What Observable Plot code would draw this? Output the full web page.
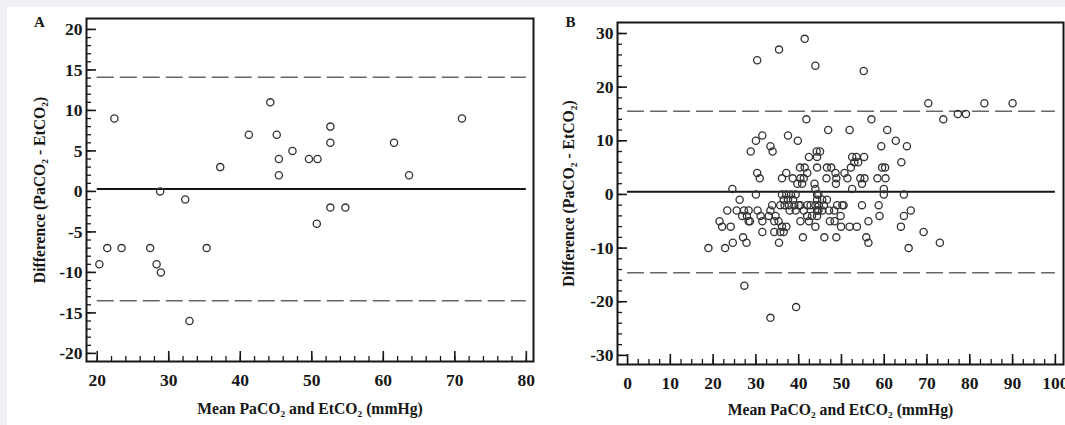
<!DOCTYPE html>
<html>
<head>
<meta charset="utf-8">
<script src="https://cdn.jsdelivr.net/npm/d3@7"></script>
<script src="https://cdn.jsdelivr.net/npm/@observablehq/plot@0.6"></script>
<style>
  html, body { margin: 0; padding: 0; background: #ffffff; }
  #page { position: relative; width: 1065px; height: 425px; overflow: hidden; background: #ffffff; }
  .strip { position: absolute; background: #eef0f5; z-index: 2; }
  .panel { position: absolute; top: 0; }
  .panel svg { background: transparent !important; }
</style>
</head>
<body>
<div id="page">
  <div class="strip" style="left:0;top:0;width:1065px;height:7px"></div>
  <div class="strip" style="left:0;top:0;width:7px;height:425px"></div>
  <div id="panelA" class="panel" style="left:0px"></div>
  <div id="panelB" class="panel" style="left:540px"></div>
</div>
<script>
// ---------- Titles ----------
const xTitle = "Mean PaCO₂ and EtCO₂ (mmHg)";
const yTitle = "Difference (PaCO₂ - EtCO₂)";

// ---------- Panel A data ----------
const meanA = [20.3, 21.4, 22.4, 23.4, 27.4, 28.3, 28.8, 28.9, 32.3, 32.9, 35.3, 37.2, 41.2, 44.2,
               45.1, 45.4, 45.4, 47.3, 49.6, 50.7, 50.8, 52.6, 52.6, 52.6, 54.7, 61.5, 63.6, 71.0];
const diffA = [-9, -7, 9, -7, -7, -9, 0, -10, -1, -16, -7, 3, 7, 11,
               7, 4, 2, 5, 4, -4, 4, 8, 6, -2, -2, 6, 2, 9];
const biasA = [0.3];
const limitsA = [14.1, -13.5];
const lineSpanA = [20, 80];
const xTicksA = [20, 30, 40, 50, 60, 70, 80];
const yTicksA = [-20, -15, -10, -5, 0, 5, 10, 15, 20];

// ---------- Panel B data ----------
const meanB = [
  41.4, 35.4, 30.3, 43.9, 55.2,
  70.3, 83.4, 90.0, 77.2, 79.1, 41.8, 57.0, 73.8,
  46.9, 51.9, 60.7, 31.5, 37.5, 30.0, 39.8, 62.7, 33.4, 59.3, 65.3,
  28.8, 33.9, 44.2, 45.0,
  42.4, 44.3, 52.5, 53.5, 55.3,
  53.0, 53.9, 64.0,
  40.3, 41.4, 44.3, 46.6, 47.6, 52.2, 59.5, 60.2,
  30.3, 37.1, 42.0, 48.6, 50.7,
  30.9, 36.1, 38.6, 40.4, 41.2, 46.5, 48.8, 51.4, 54.4, 55.4, 58.4, 60.3,
  39.7, 40.8, 43.7, 48.7, 54.8,
  24.5, 43.9, 52.5, 59.9,
  30.0, 36.1, 37.1, 38.2, 39.3, 44.3, 44.6, 59.9, 64.6,
  26.2, 36.5, 37.5, 38.7, 44.3, 45.5, 46.6,
  33.8, 35.7, 36.7, 37.7, 39.0, 40.0, 40.4, 42.0, 42.8, 43.9, 44.7, 45.9, 49.0, 50.2, 50.5, 54.8, 58.7,
  23.3, 25.5, 27.2, 28.3, 30.4, 33.4, 37.9, 39.3, 41.2, 44.3, 44.6, 45.5, 47.1, 48.3, 66.2,
  26.8, 27.9, 31.1, 33.0, 34.6, 42.0, 43.1, 44.3, 49.8, 58.9, 64.6,
  21.5, 28.3, 28.6, 31.5, 34.3, 35.3, 40.4, 42.4, 47.3, 48.4, 56.3,
  22.1, 24.1, 36.1, 37.1, 43.9, 49.9, 51.9, 53.6, 63.9,
  31.5, 34.3, 35.7, 36.5, 69.2,
  27.0, 41.0, 46.0, 48.8, 55.8,
  24.6, 27.8, 35.4, 56.3, 73.0,
  18.9, 22.8, 65.7,
  27.3, 39.4, 33.4
];
const diffB = [
  29, 27, 25, 24, 23,
  17, 17, 17, 15, 15, 14, 14, 14,
  12, 12, 12, 11, 11, 10, 10, 10, 9, 9, 9,
  8, 8, 8, 8,
  7, 7, 7, 7, 7,
  6, 6, 6,
  5, 5, 5, 5, 5, 5, 5, 5,
  4, 4, 4, 4, 4,
  3, 3, 3, 3, 3, 3, 3, 3, 3, 3, 3, 3,
  2, 2, 2, 2, 2,
  1, 1, 1, 1,
  0, 0, 0, 0, 0, 0, 0, 0, 0,
  -1, -1, -1, -1, -1, -1, -1,
  -2, -2, -2, -2, -2, -2, -2, -2, -2, -2, -2, -2, -2, -2, -2, -2, -2,
  -3, -3, -3, -3, -3, -3, -3, -3, -3, -3, -3, -3, -3, -3, -3,
  -4, -4, -4, -4, -4, -4, -4, -4, -4, -4, -4,
  -5, -5, -5, -5, -5, -5, -5, -5, -5, -5, -5,
  -6, -6, -6, -6, -6, -6, -6, -6, -6,
  -7, -7, -7, -7, -7,
  -8, -8, -8, -8, -8,
  -9, -9, -9, -9, -9,
  -10, -10, -10,
  -17, -21, -23
];
const biasB = [0.5];
const limitsB = [15.5, -14.6];
const lineSpanB = [0, 100];
const xTicksB = [0, 10, 20, 30, 40, 50, 60, 70, 80, 90, 100];
const yTicksB = [-30, -20, -10, 0, 10, 20, 30];

// ---------- Drawing ----------
const FONT = "'Liberation Serif', 'Times New Roman', serif";
const INK = "#161616";
const fmt = d => String(d); // plain hyphen-minus as in the reference

function panel(o) {
  const pts = o.xs.map((x, i) => ({x, y: o.ys[i]}));
  return Plot.plot({
    width: o.width, height: o.height,
    marginLeft: o.ml, marginRight: o.mr, marginTop: o.mt, marginBottom: o.mb,
    style: {fontFamily: FONT, background: "transparent", color: INK, overflow: "visible"},
    x: {domain: o.xDomain, label: null},
    y: {domain: o.yDomain, label: null},
    marks: [
      // minor & major inward ticks
      Plot.axisX(o.xMinor, {anchor: "bottom", tickSize: -5, fill: "none", stroke: INK, strokeWidth: 1.3, label: null}),
      Plot.axisX(o.xTicks, {anchor: "bottom", tickSize: -10, fill: "none", stroke: INK, strokeWidth: 1.6, label: null}),
      Plot.axisY(o.yMinor, {anchor: "left", tickSize: -5, fill: "none", stroke: INK, strokeWidth: 1.3, label: null}),
      Plot.axisY(o.yTicks, {anchor: "left", tickSize: -10, fill: "none", stroke: INK, strokeWidth: 1.6, label: null}),
      // tick labels
      Plot.axisX(o.xTicks, {anchor: "bottom", tickSize: 0, tickPadding: 12, tickFormat: fmt, fontSize: 17.5, fontWeight: "bold", fill: INK, label: null}),
      Plot.axisY(o.yTicks, {anchor: "left", tickSize: 0, tickPadding: 4, tickFormat: fmt, fontSize: 17.5, fontWeight: "bold", fill: INK, label: null}),
      Plot.frame({stroke: INK, strokeWidth: 2}),
      // limits of agreement and bias
      Plot.ruleY(o.limits, {x1: o.span[0], x2: o.span[1], stroke: "#666", strokeWidth: 1.6, strokeDasharray: "17,6"}),
      Plot.ruleY(o.bias, {x1: o.span[0], x2: o.span[1], stroke: INK, strokeWidth: 2}),
      // points
      Plot.dot(pts, {x: "x", y: "y", r: 3.6, stroke: "#333", strokeWidth: 1.3, fill: "none"}),
      // axis titles and panel letter
      Plot.text([xTitle], {frameAnchor: "bottom", dy: o.xTitleDy, text: d => d, fontSize: 15.7, fontWeight: "bold", fill: INK, textAnchor: "middle", lineAnchor: "middle"}),
      Plot.text([yTitle], {frameAnchor: "left", dx: o.yTitleDx, rotate: -90, text: d => d, fontSize: 15.7, fontWeight: "bold", fill: INK, textAnchor: "middle", lineAnchor: "middle"}),
      Plot.text([o.letter], {frameAnchor: "top-left", dx: o.letterDx, dy: o.letterDy, text: d => d, fontSize: 15, fontWeight: "bold", fill: INK, textAnchor: "middle", lineAnchor: "middle"})
    ]
  });
}

document.getElementById("panelA").append(panel({
  xs: meanA, ys: diffA, width: 540, height: 425, ml: 86, mr: 7, mt: 18, mb: 64,
  xDomain: [18.5, 81], yDomain: [-21, 21.35],
  xTicks: xTicksA, yTicks: yTicksA,
  xMinor: d3.range(20, 81, 2), yMinor: d3.range(-20, 21, 1),
  limits: limitsA, bias: biasA, span: lineSpanA,
  letter: "A", letterDx: -47, letterDy: 4, xTitleDy: 47, yTitleDx: -47
}));

document.getElementById("panelB").append(panel({
  xs: meanB, ys: diffB, width: 525, height: 425, ml: 77, mr: 2, mt: 22, mb: 61,
  xDomain: [-2.35, 101.9], yDomain: [-31.7, 32.05],
  xTicks: xTicksB, yTicks: yTicksB,
  xMinor: d3.range(0, 100.1, 2.5), yMinor: d3.range(-30, 31, 2),
  limits: limitsB, bias: biasB, span: lineSpanB,
  letter: "B", letterDx: -47, letterDy: 0, xTitleDy: 45, yTitleDx: -49
}));
</script>
</body>
</html>
